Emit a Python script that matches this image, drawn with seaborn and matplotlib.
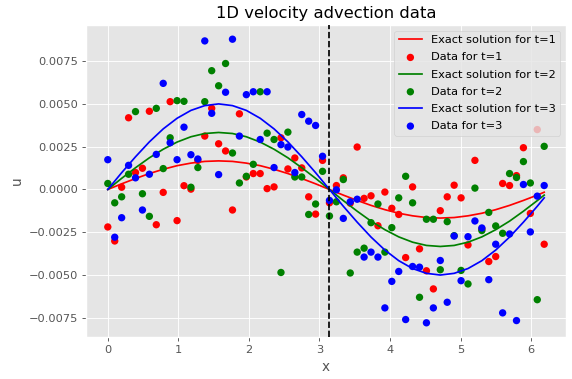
import matplotlib
matplotlib.use("Agg")
import matplotlib.pyplot as plt
import seaborn as sns

# ---------------- data ----------------
x_data = [0.0, 0.0982, 0.1963, 0.2945, 0.3927, 0.4909, 0.5890, 0.6872, 0.7854, 0.8836,
          0.9817, 1.0799, 1.1781, 1.2763, 1.3744, 1.4726, 1.5708, 1.6690, 1.7671, 1.8653,
          1.9635, 2.0617, 2.1598, 2.2580, 2.3562, 2.4544, 2.5525, 2.6507, 2.7489, 2.8471,
          2.9452, 3.0434, 3.1416, 3.2398, 3.3379, 3.4361, 3.5343, 3.6325, 3.7306, 3.8288,
          3.9270, 4.0252, 4.1233, 4.2215, 4.3197, 4.4179, 4.5160, 4.6142, 4.7124, 4.8106,
          4.9087, 5.0069, 5.1051, 5.2033, 5.3014, 5.3996, 5.4978, 5.5960, 5.6941, 5.7923,
          5.8905, 5.9887, 6.0868, 6.1850]

data_t1 = [-0.00219, -0.00301, 0.00013, 0.00419, 0.00099, 0.00124, 0.00457, -0.00206, -0.00017, 0.00513,
           -0.00182, 0.00022, 0.00002, 0.00170, 0.00312, 0.00474, 0.00267, 0.00225, -0.00120, 0.00442,
           0.00073, 0.00093, 0.00093, 0.00005, 0.00015, 0.00302, 0.00120, 0.00184, 0.00126, -0.00043,
           -0.00144, 0.00170, -0.00078, 0.00023, 0.00068, -0.00080, 0.00248, -0.00052, -0.00037, -0.00212,
           -0.00015, -0.00110, -0.00146, -0.00398, 0.00015, -0.00347, -0.00475, -0.00581, -0.00124, -0.00043,
           0.00025, -0.00049, -0.00324, 0.00170, -0.00230, -0.00421, -0.00392, 0.00035, 0.00023, 0.00081,
           0.00244, -0.00140, 0.00350, -0.00320]

data_t2 = [0.00035, -0.00078, -0.00043, 0.00089, 0.00455, -0.00025, -0.00157, 0.00474, 0.00122, 0.00302,
           0.00519, 0.00515, 0.00013, 0.00128, 0.00513, 0.00694, 0.00606, 0.00736, 0.00213, 0.00038,
           0.00077, 0.00147, 0.00571, 0.00329, 0.00292, -0.00485, 0.00335, 0.00073, 0.00073, -0.00146,
           -0.00085, 0.00106, -0.00155, -0.00072, 0.00058, -0.00488, -0.00366, -0.00343, -0.00194, -0.00085,
           -0.00366, -0.00223, -0.00049, 0.00077, -0.00078, -0.00630, -0.00174, -0.00174, -0.00469, -0.00188,
           -0.00270, -0.00473, -0.00552, 0.00008, -0.00240, -0.00134, -0.00213, -0.00256, 0.00093, 0.00070,
           0.00163, 0.00038, -0.00644, 0.00252]

data_t3 = [0.00174, -0.00279, -0.00165, 0.00141, 0.00068, -0.00120, 0.00089, 0.00205, 0.00620, 0.00273,
           0.00174, 0.00364, 0.00203, 0.00178, 0.00868, 0.00445, 0.00087, 0.00568, 0.00878, 0.00312,
           0.00554, 0.00571, 0.00292, 0.00571, 0.00128, 0.00262, 0.00248, 0.00099, 0.00438, 0.00399,
           0.00374, 0.00194, -0.00064, -0.00002, -0.00169, -0.00072, -0.00057, -0.00395, -0.00366, -0.00395,
           -0.00692, -0.00537, -0.00479, -0.00760, -0.00450, -0.00454, -0.00779, -0.00692, -0.00415, -0.00659,
           -0.00272, -0.00533, -0.00276, -0.00184, -0.00225, -0.00527, -0.00320, -0.00721, -0.00260, -0.00766,
           0.00029, -0.00248, -0.00039, 0.00023]

x_curve = [0.0, 0.1963, 0.3927, 0.5890, 0.7854, 0.9817, 1.1781, 1.3744, 1.5708, 1.7671,
           1.9635, 2.1598, 2.3562, 2.5525, 2.7489, 2.9452, 3.1416, 3.3379, 3.5343, 3.7306,
           3.9270, 4.1233, 4.3197, 4.5160, 4.7124, 4.9087, 5.1051, 5.3014, 5.4978, 5.6941,
           5.8905, 6.0868, 6.1850]

exact_t1 = [0.0, 0.00033, 0.00064, 0.00093, 0.00118, 0.00139, 0.00154, 0.00164, 0.00167, 0.00164,
            0.00154, 0.00139, 0.00118, 0.00093, 0.00064, 0.00033, 0.0, -0.00033, -0.00064, -0.00093,
            -0.00118, -0.00139, -0.00154, -0.00164, -0.00167, -0.00164, -0.00154, -0.00139, -0.00118, -0.00093,
            -0.00064, -0.00033, -0.00016]

exact_t2 = [0.0, 0.00065, 0.00127, 0.00185, 0.00235, 0.00277, 0.00308, 0.00327, 0.00333, 0.00327,
            0.00308, 0.00277, 0.00235, 0.00185, 0.00127, 0.00065, 0.0, -0.00065, -0.00127, -0.00185,
            -0.00235, -0.00277, -0.00308, -0.00327, -0.00333, -0.00327, -0.00308, -0.00277, -0.00235, -0.00185,
            -0.00127, -0.00065, -0.00033]

exact_t3 = [0.0, 0.00098, 0.00191, 0.00278, 0.00354, 0.00416, 0.00462, 0.00490, 0.00500, 0.00490,
            0.00462, 0.00416, 0.00354, 0.00278, 0.00191, 0.00098, 0.0, -0.00098, -0.00191, -0.00278,
            -0.00354, -0.00416, -0.00462, -0.00490, -0.00500, -0.00490, -0.00462, -0.00416, -0.00354, -0.00278,
            -0.00191, -0.00098, -0.00049]

times = ["1", "2", "3"]
colors = ["red", "green", "blue"]
discontinuity_x = 3.1416

# ---------------- style ----------------
plt.style.use("ggplot")
scale = 0.82
plt.rcParams.update({
    "font.family": ["DejaVu Sans"],
    "font.size": 10 * scale,
    "lines.linewidth": 1.5 * scale,
    "xtick.major.size": 3.5 * scale,
    "ytick.major.size": 3.5 * scale,
    "xtick.major.pad": 3.5 * scale,
    "ytick.major.pad": 3.5 * scale,
    "xtick.major.width": 0.8 * scale,
    "ytick.major.width": 0.8 * scale,
    "grid.linewidth": 0.8 * scale,
    "axes.titlepad": 6 * scale,
    "axes.labelpad": 4 * scale,
})

fig = plt.figure(figsize=(5.72, 3.79), dpi=100)
ax = fig.add_axes([86 / 572, 1 - 337 / 379, 480 / 572, 312 / 379])

exacts = [exact_t1, exact_t2, exact_t3]
datas = [data_t1, data_t2, data_t3]
for t, c, ex, da in zip(times, colors, exacts, datas):
    sns.lineplot(x=x_curve, y=ex, color=c, label=f"Exact solution for t={t}",
                 ax=ax, linewidth=1.5 * scale, zorder=2)
    sns.scatterplot(x=x_data, y=da, color=c, label=f"Data for t={t}", ax=ax,
                    s=28, linewidth=0, edgecolor="none", zorder=2)

ax.axvline(discontinuity_x, color="black", linestyle="--", linewidth=1.5 * scale, zorder=3)

ax.set_xlim(-0.309, 6.494)
ax.set_ylim(-0.00862, 0.00961)
ax.set_xticks([0, 1, 2, 3, 4, 5, 6])
ax.set_yticks([-0.0075, -0.005, -0.0025, 0.0, 0.0025, 0.005, 0.0075])
ax.set_xlabel("x")
ax.set_ylabel("u")
ax.set_title("1D velocity advection data")
ax.legend(loc="upper right", labelspacing=0.63)

fig.savefig("out.png", dpi=100)
